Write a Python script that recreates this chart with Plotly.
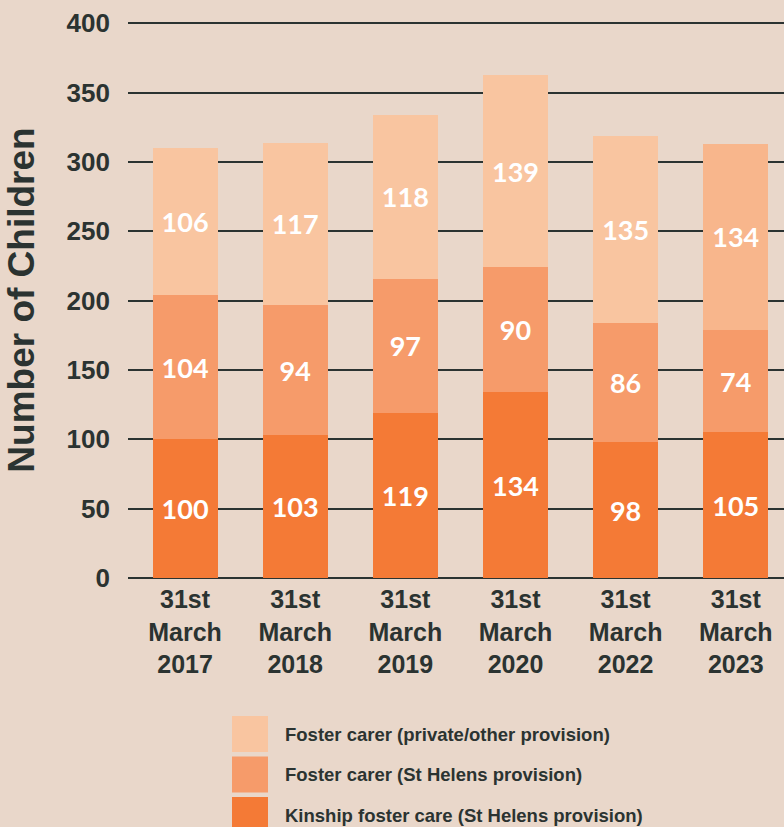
import plotly.graph_objects as go

# ── data ─────────────────────────────────────────────────────────────────────
years = ["31st<br>March<br>2017", "31st<br>March<br>2018", "31st<br>March<br>2019",
         "31st<br>March<br>2020", "31st<br>March<br>2022", "31st<br>March<br>2023"]
kinship = [100, 103, 119, 134, 98, 105]
st_helens = [104, 94, 97, 90, 86, 74]
private = [106, 117, 118, 139, 135, 134]

series_names = ["Kinship foster care (St Helens provision)",
                "Foster carer (St Helens provision)",
                "Foster carer (private/other provision)"]
y_ticks = [0, 50, 100, 150, 200, 250, 300, 350, 400]

# ── style ────────────────────────────────────────────────────────────────────
BG = "#E9D7CA"
INK = "#2B3331"
C_KIN = "#F47A36"
C_STH = "#F69B6A"
C_PRIV = "#F9C5A0"
private_colors = [C_PRIV] * 5 + ["#F8B68C"]
TICK_FONT = "Liberation Sans, Arial, sans-serif"
LABEL_FONT = "Lato, sans-serif"

W, H = 784, 827
M_L, M_R, M_T, M_B = 128, 0, 22, 249


def px_x(x):
    return (x - M_L) / (W - M_L - M_R)


def px_y(y):
    return (H - M_B - y) / (H - M_T - M_B)


fig = go.Figure()
for name, vals, col in zip(series_names, [kinship, st_helens, private],
                           [C_KIN, C_STH, private_colors]):
    fig.add_bar(
        name=name, x=years, y=vals, marker_color=col, marker_line_width=0,
        text=[str(v) for v in vals], textposition="inside",
        insidetextanchor="middle", textangle=0,
        textfont=dict(family=LABEL_FONT, size=27, color="white", weight="bold"),
        width=0.59, showlegend=False,
    )

fig.update_layout(
    barmode="stack",
    width=W, height=H,
    paper_bgcolor=BG, plot_bgcolor=BG,
    margin=dict(l=M_L, r=M_R, t=M_T, b=M_B),
    showlegend=False,
    uniformtext=dict(minsize=27, mode="show"),
    xaxis=dict(
        range=[-0.518, 5.438], showgrid=False, zeroline=False, showline=False,
        ticks="", tickfont=dict(family=TICK_FONT, size=25, color=INK, weight="bold"),
        ticklabelstandoff=4,
    ),
    yaxis=dict(
        range=[0, 401], tickvals=y_ticks, showgrid=True, gridcolor=INK, gridwidth=2,
        zeroline=True, zerolinecolor=INK, zerolinewidth=2, showline=False, ticks="",
        tickfont=dict(family=TICK_FONT, size=26, color=INK, weight="bold"),
        ticklabelstandoff=17,
        title=dict(text="Number of Children", standoff=20,
                   font=dict(family=TICK_FONT, size=37, color=INK, weight="bold")),
    ),
)

# legend drawn as large swatches below the chart
legend_items = list(zip(series_names, [C_KIN, C_STH, C_PRIV]))[::-1]
for k, (name, col) in enumerate(legend_items):
    top = 716 + 40.5 * k
    fig.add_shape(type="rect", xref="paper", yref="paper",
                  x0=px_x(232), x1=px_x(268), y0=px_y(top + 36), y1=px_y(top),
                  fillcolor=col, line_width=0)
    fig.add_annotation(xref="paper", yref="paper", x=px_x(283), y=px_y(top + 18),
                       xanchor="left", yanchor="middle", showarrow=False,
                       text=name,
                       font=dict(family=TICK_FONT, size=18.5, color=INK, weight="bold"))

fig.write_html("out.html", config={"displayModeBar": False},
               post_script="document.body.style.margin='0';")
